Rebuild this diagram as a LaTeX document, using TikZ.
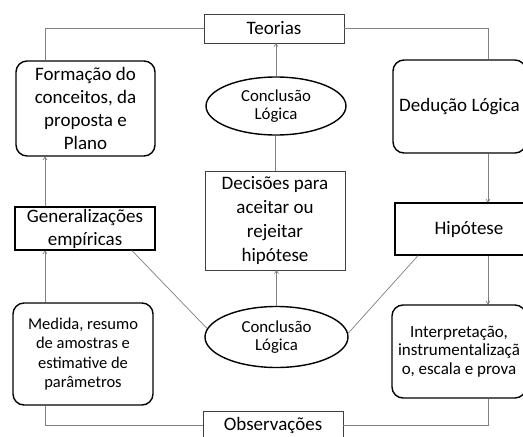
\documentclass[tikz,border=0pt]{standalone}
\usepackage{fontspec}
\setmainfont{Carlito}
\usetikzlibrary{arrows.meta,shapes.geometric,calc}
\begin{document}
\begin{tikzpicture}[x=1pt,y=-1pt,
 big/.style={font=\fontsize{19}{23}\selectfont, align=center, inner sep=0pt},
 small/.style={font=\fontsize{16.8}{18.5}\selectfont, align=center, inner sep=0pt},
 thinbox/.style={big, draw=black!75, line width=0.7pt},
 sqbox/.style={big, draw=black, line width=1.2pt},
 rbox/.style={draw=black, line width=1.4pt, rounded corners=11pt, align=center, inner sep=0pt},
 oval/.style={small, ellipse, draw=black, line width=1.4pt},
 conn/.style={draw=black!50, line width=0.7pt},
 arr/.style={conn, -{To[length=3.5pt,width=4.5pt]}}
]
\fill[white] (0,0) rectangle (523,437);
\useasboundingbox (0,0) rectangle (523,437);

\coordinate (lx) at (45,0);
\coordinate (rx) at (488,0);
\coordinate (gx) at (132,0);
\coordinate (hx) at (418,0);

\node[thinbox, minimum width=140pt, minimum height=29pt] (teo) at (274,28.5) {Teorias};
\node[rbox, big, minimum width=139pt, minimum height=95pt] (form) at (85.5,108.5) {Formação do\\conceitos, da\\proposta e\\Plano};
\node[sqbox, minimum width=140pt, minimum height=43pt] (gen) at (85,228.5) {Generalizações\\empíricas};
\node[rbox, font=\fontsize{16.5}{19.5}\selectfont, minimum width=140pt, minimum height=102pt] (med) at (83,354) {Medida, resumo\\de amostras e\\estimative de\\parâmetros};
\node[thinbox, minimum width=140pt, minimum height=28pt] (obs) at (273,425) {Observações};

\node[oval, minimum width=140pt, minimum height=58pt] (el1) at (276,106) {Conclusão\\Lógica};
\node[thinbox, font=\fontsize{19}{24}\selectfont, minimum width=140pt, minimum height=99pt] (dec) at (275,220.5) {Decisões para\\aceitar ou\\rejeitar\\hipótese};
\node[oval, minimum width=143pt, minimum height=61pt] (el2) at (276.5,337) {Conclusão\\Lógica};

\node[rbox, big, minimum width=133pt, minimum height=93pt] (ded) at (459.5,106.5) {Dedução Lógica};
\node[sqbox, minimum width=135pt, minimum height=52pt] (hip) at (462.5,229) {\hspace*{13pt}\makebox[122pt]{Hipótese}};
\node[rbox, font=\fontsize{17}{18.5}\selectfont, minimum width=134pt, minimum height=93pt] (int) at (459,351.5) {Interpretação,\\instrumentalizaçã\\o, escala e prova};

% outer loop
\draw[conn] (teo.west) -| (form.north -| lx);
\draw[conn] (teo.east) -| (ded.north -| rx);
\draw[arr] (ded.south -| rx) -- (hip.north -| rx);
\draw[arr] (hip.south -| rx) -- (int.north -| rx);
\draw[conn] (int.south -| rx) |- (obs.east);
\draw[conn] (obs.west) -| (med.south -| lx);
\draw[arr] (med.north -| lx) -- (gen.south -| lx);
\draw[arr] (gen.north -| lx) -- (form.south -| lx);

% centre column
\draw[arr] (el2.north) -- (el2.north |- dec.south);
\draw[conn] (dec.north) -- (dec.north |- el1.south);
\draw[arr] (el1.north) -- (el1.north |- teo.south);

% diagonals
\draw[conn] (el2.173) -- (gen.south -| gx);
\draw[conn] (el2.3) -- (hip.south -| hx);
\end{tikzpicture}
\end{document}
